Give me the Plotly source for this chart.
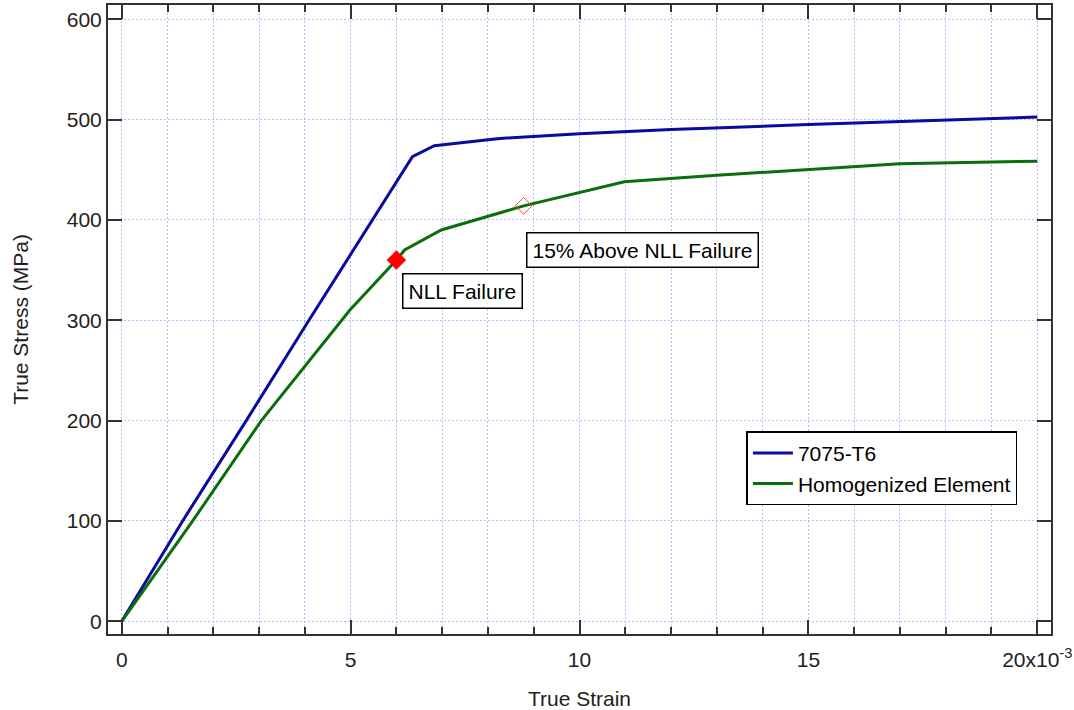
import plotly.graph_objects as go

# True strain in units of 1e-3, true stress in MPa
blue_strain = [0, 1.33, 2.72, 4.09, 6.35, 6.83, 8.2, 10.0, 12.0, 15.0, 20.0]
blue_stress = [0, 100, 200, 300, 463, 474, 481, 486, 490, 495, 502.5]

green_strain = [0, 1.55, 3.05, 4.98, 6.0, 6.18, 6.98, 8.78, 10.98, 13.0, 17.0, 20.0]
green_stress = [0, 100, 200, 310, 360, 370, 390, 414, 438, 444.5, 456, 458.5]

nll_strain = [6.0]
nll_stress = [360]
above_strain = [8.78]
above_stress = [414]

x_tickvals = [0, 5, 10, 15, 20]
x_ticktext = ["0", "5", "10", "15", "20x10<sup>-3</sup>"]
y_tickvals = [0, 100, 200, 300, 400, 500, 600]

FONT = "Liberation Sans, Arial, sans-serif"
FS = 21
AXC = "#333333"
GRIDC = "rgb(185,185,255)"
GDASH = "1.5px,2.5px"

fig = go.Figure()
fig.add_trace(go.Scatter(x=blue_strain, y=blue_stress, mode="lines", name="7075-T6",
                         line=dict(color="rgb(10,10,160)", width=3)))
fig.add_trace(go.Scatter(x=green_strain, y=green_stress, mode="lines", name="Homogenized Element",
                         line=dict(color="rgb(10,110,10)", width=3)))
fig.add_trace(go.Scatter(x=nll_strain, y=nll_stress, mode="markers", showlegend=False,
                         marker=dict(symbol="diamond", size=15, color="rgb(255,0,0)",
                                     line=dict(width=0))))
fig.add_trace(go.Scatter(x=above_strain, y=above_stress, mode="markers", showlegend=False,
                         marker=dict(symbol="diamond-open", size=13, color="rgb(255,70,70)",
                                     line=dict(width=1))))

fig.add_annotation(x=6.12, y=347, xref="x", yref="y", text="NLL Failure", showarrow=False,
                   xanchor="left", yanchor="top", font=dict(family=FONT, size=FS, color="black"),
                   bgcolor="white", bordercolor="black", borderwidth=1.5, borderpad=5)
fig.add_annotation(x=8.83, y=388, xref="x", yref="y", text="15% Above NLL Failure", showarrow=False,
                   xanchor="left", yanchor="top", font=dict(family=FONT, size=FS, color="black"),
                   bgcolor="white", bordercolor="black", borderwidth=1.5, borderpad=5)

fig.update_layout(
    width=1074, height=710,
    margin=dict(l=108, r=23, t=5, b=76),
    paper_bgcolor="white", plot_bgcolor="white",
    font=dict(family=FONT, size=FS, color="#222222"),
    legend=dict(x=0.677, y=0.322, xanchor="left", yanchor="top",
                bordercolor="black", borderwidth=1.5, bgcolor="white",
                font=dict(family=FONT, size=FS, color="black"),
                tracegroupgap=0, itemwidth=40),
    xaxis=dict(
        range=[-0.3, 20.3], tickvals=x_tickvals, ticktext=x_ticktext,
        showline=True, linecolor=AXC, linewidth=2, mirror="allticks",
        ticks="inside", ticklen=14, tickwidth=2, tickcolor=AXC,
        showgrid=True, gridcolor=GRIDC, griddash=GDASH, gridwidth=1,
        zeroline=False, ticklabelstandoff=6, automargin=False,
        minor=dict(dtick=1, ticks="inside", ticklen=7, tickwidth=1.5, tickcolor=AXC,
                   showgrid=True, gridcolor=GRIDC, griddash=GDASH, gridwidth=1),
        title=dict(text="True Strain", font=dict(family=FONT, size=FS, color="#222222"), standoff=24),
        tickfont=dict(family=FONT, size=FS, color="#222222"),
    ),
    yaxis=dict(
        range=[-12.7, 614.2], tickvals=y_tickvals,
        showline=True, linecolor=AXC, linewidth=2, mirror="allticks",
        ticks="inside", ticklen=14, tickwidth=2, tickcolor=AXC,
        showgrid=True, gridcolor=GRIDC, griddash=GDASH, gridwidth=1,
        zeroline=False, automargin=False,
        title=dict(text="True Stress (MPa)", font=dict(family=FONT, size=FS, color="#222222"), standoff=32),
        tickfont=dict(family=FONT, size=FS, color="#222222"),
    ),
)

fig.write_html("out.html", config={"displayModeBar": False},
               post_script="document.body.style.margin='0px';")
